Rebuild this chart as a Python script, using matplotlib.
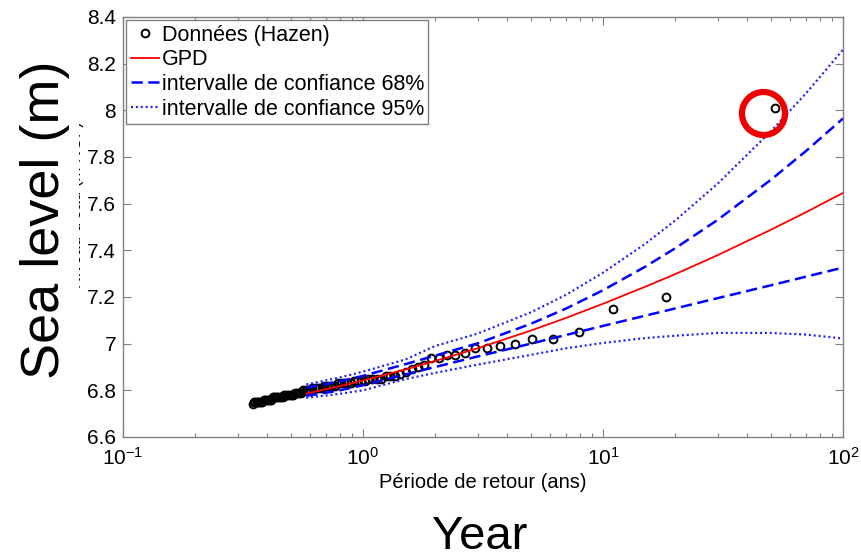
import matplotlib
matplotlib.use("Agg")
import matplotlib.pyplot as plt
from matplotlib.patches import Rectangle

plt.rcParams['font.family'] = ['Liberation Sans', 'DejaVu Sans']
plt.rcParams['mathtext.fontset'] = 'custom'
plt.rcParams['mathtext.rm'] = 'Liberation Sans'
plt.rcParams['mathtext.it'] = 'Liberation Sans'

# ---- data ----
periods = [52.3, 18.22, 11.03, 7.91, 6.17, 5.05, 4.28, 3.71, 3.28, 2.93,
           2.65, 2.42, 2.23, 2.07, 1.924, 1.800, 1.691, 1.595, 1.509, 1.432,
           1.362, 1.299, 1.241, 1.188, 1.140, 1.095, 1.054, 1.016, 0.980, 0.947,
           0.916, 0.887, 0.860, 0.834, 0.810, 0.787, 0.766, 0.745, 0.726, 0.707,
           0.690, 0.673, 0.658, 0.642, 0.628, 0.614, 0.601, 0.588, 0.576, 0.565,
           0.553, 0.543, 0.532, 0.522, 0.513, 0.504, 0.495, 0.486, 0.478, 0.470,
           0.462, 0.455, 0.447, 0.440, 0.433, 0.427, 0.420, 0.414, 0.408, 0.402,
           0.397, 0.391, 0.386, 0.380, 0.375, 0.370, 0.365, 0.361, 0.356, 0.352,
           0.347]
levels = [8.01, 7.20, 7.15, 7.05, 7.02, 7.02, 7.00, 6.99, 6.98, 6.98,
          6.96, 6.95, 6.95, 6.94, 6.94, 6.91, 6.90, 6.89, 6.88, 6.87,
          6.86, 6.86, 6.86, 6.85, 6.85, 6.85, 6.85, 6.84, 6.84, 6.84,
          6.84, 6.83, 6.83, 6.83, 6.83, 6.83, 6.82, 6.82, 6.82, 6.82,
          6.82, 6.81, 6.81, 6.81, 6.81, 6.81, 6.80, 6.80, 6.80, 6.80,
          6.79, 6.79, 6.79, 6.79, 6.78, 6.78, 6.78, 6.78, 6.78, 6.78,
          6.77, 6.77, 6.77, 6.77, 6.77, 6.77, 6.77, 6.76, 6.76, 6.76,
          6.76, 6.76, 6.76, 6.75, 6.75, 6.75, 6.75, 6.75, 6.75, 6.75,
          6.74]

curve_T = [0.58, 0.8, 1, 1.5, 2, 3, 5, 7, 10, 15, 20, 30, 50, 70, 100]
gpd = [6.786, 6.818, 6.842, 6.889, 6.926, 6.980, 7.056, 7.110, 7.171, 7.244,
       7.298, 7.379, 7.488, 7.563, 7.646]
ci68_up = [6.812, 6.838, 6.862, 6.912, 6.949, 7.001, 7.085, 7.150, 7.229, 7.330,
           7.409, 7.530, 7.702, 7.825, 7.965]
ci68_lo = [6.776, 6.800, 6.822, 6.868, 6.900, 6.945, 7.000, 7.037, 7.076, 7.120,
           7.151, 7.195, 7.250, 7.287, 7.326]
ci95_up = [6.825, 6.855, 6.880, 6.932, 6.990, 7.043, 7.134, 7.209, 7.304, 7.428,
           7.528, 7.685, 7.909, 8.072, 8.260]
ci95_lo = [6.768, 6.785, 6.800, 6.848, 6.875, 6.910, 6.952, 6.980, 7.003, 7.024,
           7.034, 7.046, 7.046, 7.039, 7.022]

labels = ['Données (Hazen)', 'GPD', 'intervalle de confiance 68%',
          'intervalle de confiance 95%']
highlight = (46.6, 7.99)

fig = plt.figure(figsize=(8.62, 5.6), dpi=100)
ax = fig.add_axes([123/862, 1-437/560, (843-123)/862, (437-17)/560])

h_data, = ax.plot(periods, levels, 'o', ls='none', mfc='none', mec='black',
                  ms=5.6, mew=1.4, zorder=3)
h_gpd, = ax.plot(curve_T, gpd, '-', color='#ff0000', lw=1.3, zorder=4)
h68, = ax.plot(curve_T, ci68_up, color='#0000ff', lw=1.8, dashes=(4.5, 2.2), zorder=4)
ax.plot(curve_T, ci68_lo, color='#0000ff', lw=1.8, dashes=(4.5, 2.2), zorder=4)
h95, = ax.plot(curve_T, ci95_up, color='#2020ff', lw=1.6, dashes=(0.9, 1.3), zorder=4)
ax.plot(curve_T, ci95_lo, color='#2020ff', lw=1.6, dashes=(0.9, 1.3), zorder=4)

# red highlight circle
ax.plot([highlight[0]], [highlight[1]], 'o', mfc='none', mec='#ee0000',
        ms=31, mew=4.5, zorder=5, clip_on=False)

ax.set_xscale('log')
ax.set_xlim(0.1, 100)
ax.set_ylim(6.6, 8.4)
ax.set_yticks([6.6, 6.8, 7.0, 7.2, 7.4, 7.6, 7.8, 8.0, 8.2, 8.4])
ax.set_yticklabels(['6.6', '6.8', '7', '7.2', '7.4', '7.6', '7.8', '8', '8.2', '8.4'])

gray = '#808080'
for s in ax.spines.values():
    s.set_color(gray)
    s.set_linewidth(1.0)
ax.tick_params(which='both', direction='in', top=True, right=True, color=gray,
               labelcolor='black', labelsize=15)
ax.tick_params(which='major', length=6, width=0.8, pad=5)
ax.tick_params(which='minor', length=3, width=0.8)
ax.tick_params(axis='x', which='major', pad=7)

ax.set_xlabel('Période de retour (ans)', fontsize=14.5, labelpad=3)

leg = ax.legend([h_data, h_gpd, h68, h95], labels, loc='upper left',
                fontsize=15.5, frameon=True, fancybox=False, framealpha=1,
                edgecolor=gray, borderpad=0.2, borderaxespad=0.15,
                labelspacing=0.17, handlelength=1.3, handletextpad=0.15,
                numpoints=1)
leg.get_frame().set_linewidth(1.0)

# original (mostly hidden) axis label and overlay label
fig.text(77/862, 1-205/560, "Niveau d'eau (m NGF)", rotation=90, fontsize=12,
         ha='center', va='center', color='black')
fig.patches.append(Rectangle((12/862, 1-395/560), (79-12)/862, (395-45)/560,
                             transform=fig.transFigure, facecolor='white',
                             edgecolor='none', zorder=5))
fig.text(45/862, 1-220/560, 'Sea level (m)', rotation=90, fontsize=39,
         ha='center', va='center', color='black', zorder=6)
fig.text(480/862, 1-537/560, 'Year', fontsize=34, ha='center', va='center',
         color='black')

fig.savefig('out.png', dpi=100)
